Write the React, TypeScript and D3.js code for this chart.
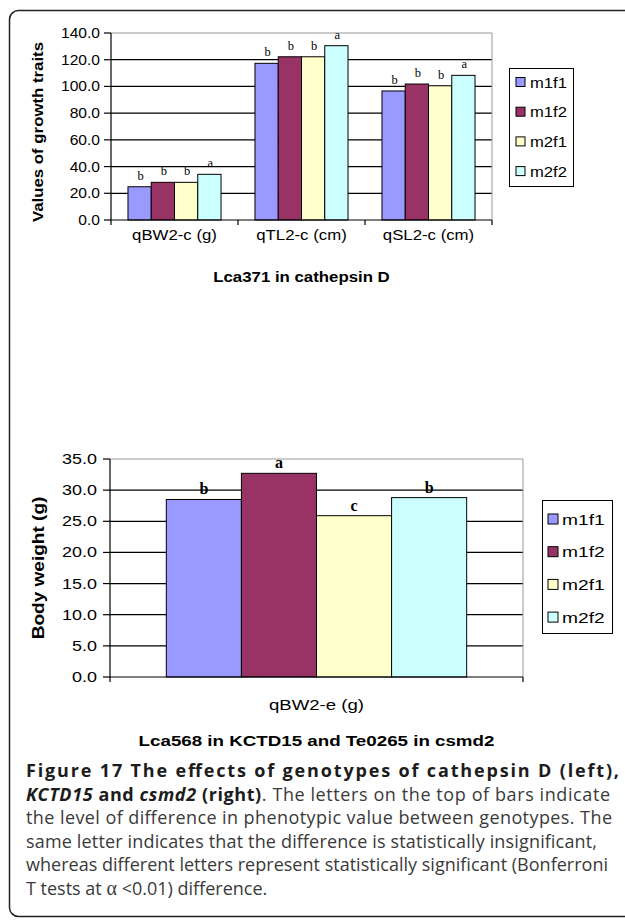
import React from "react";
import * as d3 from "d3";

// ---------- data ----------
const series = ["m1f1", "m1f2", "m2f1", "m2f2"];
const seriesColors = ["#9999FF", "#993366", "#FFFFCC", "#CCFFFF"];

const topCategories = ["qBW2-c (g)", "qTL2-c (cm)", "qSL2-c (cm)"];
const topM1f1 = [24.9, 117.3, 96.6];
const topM1f2 = [28.2, 122.2, 101.8];
const topM2f1 = [28.2, 122.2, 100.5];
const topM2f2 = [34.2, 130.5, 108.3];
const topLettersM1f1 = ["b", "b", "b"];
const topLettersM1f2 = ["b", "b", "b"];
const topLettersM2f1 = ["b", "b", "b"];
const topLettersM2f2 = ["a", "a", "a"];
const topTicks = [0, 20, 40, 60, 80, 100, 120, 140];
const topTitle = "Lca371 in cathepsin D";
const topYTitle = "Values of growth traits";

const botCategories = ["qBW2-e (g)"];
const botValues = [28.5, 32.7, 25.9, 28.8];
const botLetters = ["b", "a", "c", "b"];
const botTicks = [0, 5, 10, 15, 20, 25, 30, 35];
const botTitle = "Lca568 in KCTD15 and Te0265 in csmd2";
const botYTitle = "Body weight (g)";

const ARIAL = "'Liberation Sans', Arial, sans-serif";
const CAP = "'Open Sans', 'Noto Sans', sans-serif";

function ST({ x, y, sx = 1, rot = 0, children, ...rest }: any) {
  return (
    <text
      transform={`translate(${x},${y})${rot ? ` rotate(${rot})` : ""} scale(${sx},1)`}
      {...rest}
    >
      {children}
    </text>
  );
}

function TopChart() {
  const left = 111, right = 492, top = 33, bottom = 220;
  const x0 = d3.scaleBand<string>().domain(topCategories).range([left, right]).paddingInner(0).paddingOuter(0);
  const x1 = d3.scaleBand<string>().domain(series).range([0, x0.bandwidth()]).paddingInner(0).paddingOuter(0.73);
  const y = d3.scaleLinear().domain([0, 140]).range([bottom, top]);
  const vals = [topM1f1, topM1f2, topM2f1, topM2f2];
  const lets = [topLettersM1f1, topLettersM1f2, topLettersM2f1, topLettersM2f2];
  const fmt = d3.format(".1f");
  const boundaries = [...topCategories.map((c) => x0(c)!), right];
  return (
    <g>
      {topTicks.filter((t) => t > 0 && t < 140).map((t) => (
        <line key={t} x1={left} x2={right} y1={y(t)} y2={y(t)} stroke="#000" strokeWidth={1.2} />
      ))}
      <line x1={left} x2={right} y1={y(140)} y2={y(140)} stroke="#999" strokeWidth={1} />
      <line x1={right} x2={right} y1={top} y2={bottom} stroke="#999" strokeWidth={1} />
      {topCategories.map((c, ci) =>
        series.map((s, si) => {
          const bx = x0(c)! + x1(s)!;
          const v = vals[si][ci];
          return (
            <g key={c + s}>
              <rect x={bx} y={y(v)} width={x1.bandwidth()} height={bottom - y(v)} fill={seriesColors[si]} stroke="#000" strokeWidth={1} />
              <text x={bx + x1.bandwidth() / 2 + 1} y={y(v) - 7} textAnchor="middle" fontFamily="'Liberation Serif', serif" fontSize={12.5} fill="#000">
                {lets[si][ci]}
              </text>
            </g>
          );
        })
      )}
      <line x1={left} x2={left} y1={top} y2={bottom} stroke="#000" strokeWidth={1.2} />
      <line x1={left} x2={right} y1={bottom} y2={bottom} stroke="#000" strokeWidth={1.2} />
      {topTicks.map((t) => (
        <g key={t}>
          <line x1={left - 7} x2={left} y1={y(t)} y2={y(t)} stroke="#000" strokeWidth={1.2} />
          <ST x={100} y={y(t) + 5} sx={1.04} textAnchor="end" fontFamily={ARIAL} fontSize={15} fill="#000">
            {fmt(t)}
          </ST>
        </g>
      ))}
      {boundaries.map((b, i) => (
        <line key={i} x1={b} x2={b} y1={bottom} y2={bottom + 5} stroke="#000" strokeWidth={1.2} />
      ))}
      {topCategories.map((c) => (
        <ST key={c} x={x0(c)! + x0.bandwidth() / 2} y={240} sx={1.12} textAnchor="middle" fontFamily={ARIAL} fontSize={15} fill="#000">
          {c}
        </ST>
      ))}
      <ST x={(left + right) / 2} y={282} sx={1.16} textAnchor="middle" fontFamily={ARIAL} fontWeight="bold" fontSize={14.5} fill="#000">
        {topTitle}
      </ST>
      <ST x={43} y={132} rot={-90} sx={1.12} textAnchor="middle" fontFamily={ARIAL} fontWeight="bold" fontSize={15} fill="#000">
        {topYTitle}
      </ST>
      <rect x={509.5} y={68.5} width={64} height={118} fill="#fff" stroke="#000" strokeWidth={1} />
      {series.map((s, i) => {
        const cy = 82 + i * 29.7;
        return (
          <g key={s}>
            <rect x={516} y={cy - 4.5} width={9} height={9} fill={seriesColors[i]} stroke="#000" strokeWidth={1} />
            <ST x={530} y={cy + 5.5} sx={1.07} fontFamily={ARIAL} fontSize={15.5} fill="#000">
              {s}
            </ST>
          </g>
        );
      })}
    </g>
  );
}

function BottomChart() {
  const left = 110, right = 523, top = 459, bottom = 677;
  const x0 = d3.scaleBand<string>().domain(botCategories).range([left, right]).paddingInner(0).paddingOuter(0);
  const x1 = d3.scaleBand<string>().domain(series).range([0, x0.bandwidth()]).paddingInner(0).paddingOuter(0.75);
  const y = d3.scaleLinear().domain([0, 35]).range([bottom, top]);
  const fmt = d3.format(".1f");
  const c = botCategories[0];
  return (
    <g>
      {botTicks.filter((t) => t > 0 && t < 35).map((t) => (
        <line key={t} x1={left} x2={right} y1={y(t)} y2={y(t)} stroke="#000" strokeWidth={1.2} />
      ))}
      <line x1={left} x2={right} y1={y(35)} y2={y(35)} stroke="#999" strokeWidth={1} />
      <line x1={right} x2={right} y1={top} y2={bottom} stroke="#999" strokeWidth={1} />
      {series.map((s, si) => {
        const bx = x0(c)! + x1(s)!;
        const v = botValues[si];
        return (
          <g key={s}>
            <rect x={bx} y={y(v)} width={x1.bandwidth()} height={bottom - y(v)} fill={seriesColors[si]} stroke="#000" strokeWidth={1} />
            <text x={bx + x1.bandwidth() / 2} y={y(v) - 5} textAnchor="middle" fontFamily="'Liberation Serif', serif" fontWeight="bold" fontSize={16} fill="#000">
              {botLetters[si]}
            </text>
          </g>
        );
      })}
      <line x1={left} x2={left} y1={top} y2={bottom} stroke="#000" strokeWidth={1.2} />
      <line x1={left} x2={right} y1={bottom} y2={bottom} stroke="#000" strokeWidth={1.2} />
      {botTicks.map((t) => (
        <g key={t}>
          <line x1={left - 7} x2={left} y1={y(t)} y2={y(t)} stroke="#000" strokeWidth={1.2} />
          <ST x={97} y={y(t) + 5} sx={1.24} textAnchor="end" fontFamily={ARIAL} fontSize={14.5} fill="#000">
            {fmt(t)}
          </ST>
        </g>
      ))}
      {[left, right].map((b, i) => (
        <line key={i} x1={b} x2={b} y1={bottom} y2={bottom + 5} stroke="#000" strokeWidth={1.2} />
      ))}
      <ST x={x0(c)! + x0.bandwidth() / 2} y={710} sx={1.24} textAnchor="middle" fontFamily={ARIAL} fontSize={15} fill="#000">
        {c}
      </ST>
      <ST x={(left + right) / 2} y={746} sx={1.21} textAnchor="middle" fontFamily={ARIAL} fontWeight="bold" fontSize={15.5} fill="#000">
        {botTitle}
      </ST>
      <ST x={44} y={568} rot={-90} sx={1.19} textAnchor="middle" fontFamily={ARIAL} fontWeight="bold" fontSize={16} fill="#000">
        {botYTitle}
      </ST>
      <rect x={542.5} y={500.5} width={70} height={133} fill="#fff" stroke="#000" strokeWidth={1} />
      {series.map((s, i) => {
        const cy = 519 + i * 32.7;
        return (
          <g key={s}>
            <rect x={548} y={cy - 5} width={10} height={10} fill={seriesColors[i]} stroke="#000" strokeWidth={1} />
            <ST x={562} y={cy + 5.5} sx={1.28} fontFamily={ARIAL} fontSize={15} fill="#000">
              {s}
            </ST>
          </g>
        );
      })}
    </g>
  );
}

function Caption() {
  const x = 26;
  const base = 777;
  const lh = 23.6;
  const reg = "#3a3a3a";
  const bold = "#1c1c1c";
  return (
    <g fontFamily={CAP} fontSize={18}>
      <text x={x} y={base} textLength={593} lengthAdjust="spacing" fontWeight="bold" fill={bold}>
        Figure 17 The effects of genotypes of cathepsin D (left),
      </text>
      <text x={x} y={base + lh} textLength={584} lengthAdjust="spacing" fill={reg}>
        <tspan fontWeight="bold" fontStyle="italic" fill={bold}>KCTD15</tspan>
        <tspan fontWeight="bold" fill={bold}> and </tspan>
        <tspan fontWeight="bold" fontStyle="italic" fill={bold}>csmd2</tspan>
        <tspan fontWeight="bold" fill={bold}> (right)</tspan>
        <tspan>. The letters on the top of bars indicate</tspan>
      </text>
      <text x={x} y={base + lh * 2} textLength={586} lengthAdjust="spacing" fill={reg}>
        the level of difference in phenotypic value between genotypes. The
      </text>
      <text x={x} y={base + lh * 3} textLength={571} lengthAdjust="spacing" fill={reg}>
        same letter indicates that the difference is statistically insignificant,
      </text>
      <text x={x} y={base + lh * 4} textLength={582} lengthAdjust="spacing" fill={reg}>
        whereas different letters represent statistically significant (Bonferroni
      </text>
      <text x={x} y={base + lh * 5} fill={reg}>
        T tests at <tspan fontFamily="'Liberation Serif', serif" fontSize={20}>α</tspan> &lt;0.01) difference.
      </text>
    </g>
  );
}

export default function App() {
  return (
    <svg
      width={625}
      height={921}
      viewBox="0 0 625 921"
      style={{ position: "absolute", left: 0, top: 0, background: "#fff" }}
    >
      <rect x={0} y={0} width={625} height={921} fill="#fff" />
      <rect x={9.5} y={10.5} width={660} height={906} rx={9} ry={9} fill="none" stroke="#222" strokeWidth={1.5} />
      <TopChart />
      <BottomChart />
      <Caption />
    </svg>
  );
}
